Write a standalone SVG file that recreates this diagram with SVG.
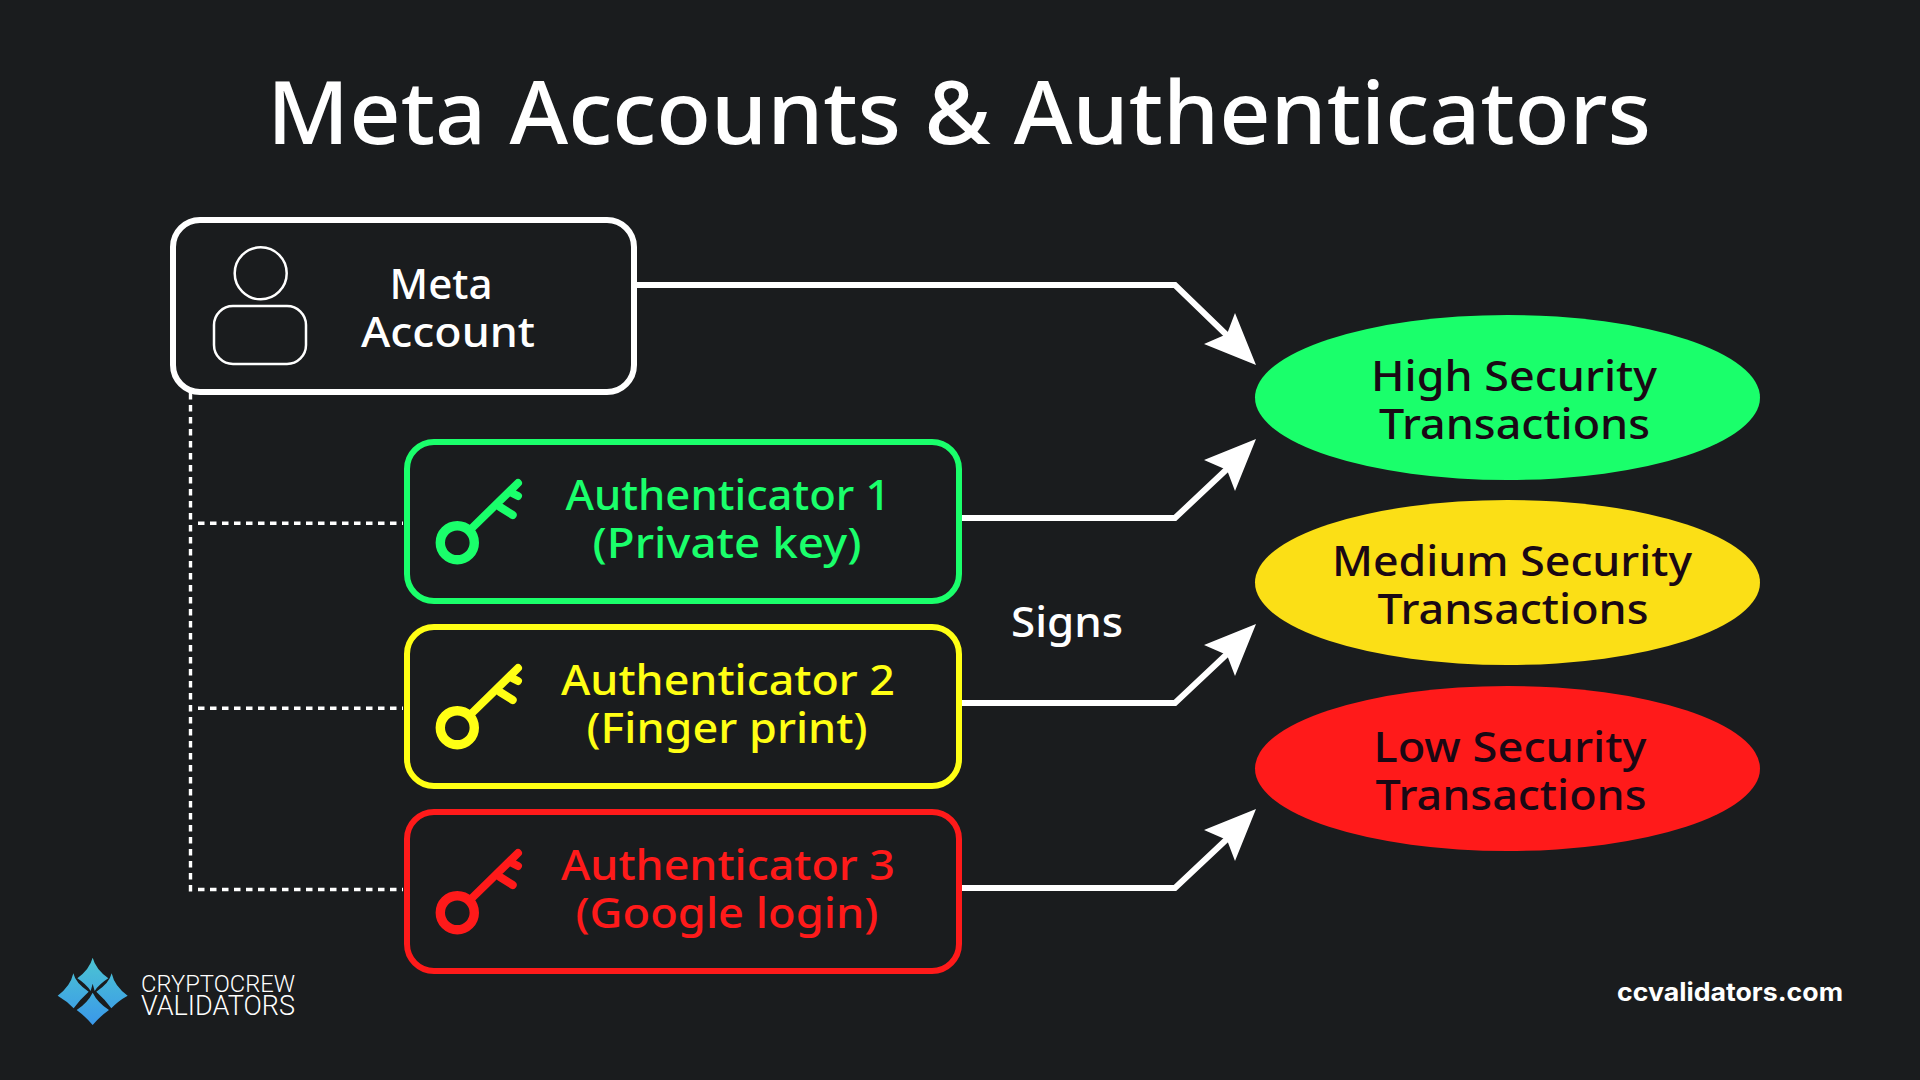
<svg xmlns="http://www.w3.org/2000/svg" width="1920" height="1080" viewBox="0 0 1920 1080">
<defs>
<style>
text{font-family:"Noto Sans","Open Sans","Liberation Sans",sans-serif;text-anchor:middle}
.lbl{font-size:42px;font-weight:500;fill:#fff}
.dark{font-size:42px;font-weight:500;fill:#1a0814}
.box{fill:none;stroke-width:6}
.green{stroke:#1aff6b}.yellow{stroke:#ffff14}.red{stroke:#ff1a1a}
.flow{fill:none;stroke:#fff;stroke-width:6}
.dash{fill:none;stroke:#fff;stroke-width:3.4;stroke-dasharray:6.5 5.5}
.keyring{fill:none;stroke-width:9.4}
.keyline{fill:none;stroke-width:8;stroke-linecap:round}
.petal{fill:url(#lg)}
</style>
<linearGradient id="lg" gradientUnits="userSpaceOnUse" x1="113" y1="8" x2="113" y2="210"><stop offset="0" stop-color="#4cc4d2"/><stop offset="1" stop-color="#3a98ea"/></linearGradient>
<polygon id="head" points="0,0 -52,-21 -29,-31 -21,-52" fill="#fff"/>
<g id="key"><circle class="keyring" cx="457.3" cy="542.7" r="17"/><path class="keyline" d="M471 529L518 483M500 507L512.7 515M510 492L518 496"/></g>
</defs>
<rect width="1920" height="1080" fill="#1a1c1e"/>
<text x="959" y="144" font-size="87" font-weight="500" fill="#fff" textLength="1384" lengthAdjust="spacingAndGlyphs">Meta Accounts &amp; Authenticators</text>
<g id="connectors">
<path class="flow" d="M637 285H1175L1236 344"/>
<path class="flow" d="M962 518H1175L1227 469"/>
<path class="flow" d="M962 703H1175L1227 654"/>
<path class="flow" d="M962 888H1175L1227 839"/>
<use href="#head" x="1256" y="365"/>
<use href="#head" transform="translate(1256 439) scale(1 -1)"/>
<use href="#head" transform="translate(1256 624) scale(1 -1)"/>
<use href="#head" transform="translate(1256 809) scale(1 -1)"/>
<path class="dash" d="M190.500 393V892M198 523.300H403M198 708.300H403M198 889.500H403"/>
<text class="lbl" x="1067" y="637" textLength="112" lengthAdjust="spacingAndGlyphs">Signs</text>
</g>
<g id="meta-account">
<rect class="box" x="173" y="220" width="461" height="172" rx="27" stroke="#fff"/>
<circle cx="260.7" cy="273.3" r="26" fill="none" stroke="#fff" stroke-width="2.5"/>
<rect x="214" y="306" width="92" height="58" rx="19" fill="none" stroke="#fff" stroke-width="2.5"/>
<text class="lbl" x="441" y="299" textLength="103" lengthAdjust="spacingAndGlyphs">Meta</text>
<text class="lbl" x="448" y="347" textLength="174" lengthAdjust="spacingAndGlyphs">Account</text>
</g>
<g id="authenticator-1">
<rect class="box green" x="407" y="442" width="552" height="159" rx="27"/>
<use href="#key" class="green"/>
<text class="lbl" style="fill:#1aff6b" x="728" y="510" textLength="325" lengthAdjust="spacingAndGlyphs">Authenticator 1</text>
<text class="lbl" style="fill:#1aff6b" x="727" y="558" textLength="269" lengthAdjust="spacingAndGlyphs">(Private key)</text>
</g>
<g id="authenticator-2">
<rect class="box yellow" x="407" y="627" width="552" height="159" rx="27"/>
<use href="#key" y="185" class="yellow"/>
<text class="lbl" style="fill:#ffff14" x="728" y="695" textLength="334" lengthAdjust="spacingAndGlyphs">Authenticator 2</text>
<text class="lbl" style="fill:#ffff14" x="727" y="743" textLength="281" lengthAdjust="spacingAndGlyphs">(Finger print)</text>
</g>
<g id="authenticator-3">
<rect class="box red" x="407" y="812" width="552" height="159" rx="27"/>
<use href="#key" y="370" class="red"/>
<text class="lbl" style="fill:#ff1a1a" x="728" y="880" textLength="334" lengthAdjust="spacingAndGlyphs">Authenticator 3</text>
<text class="lbl" style="fill:#ff1a1a" x="727" y="928" textLength="303" lengthAdjust="spacingAndGlyphs">(Google login)</text>
</g>
<g id="high-security">
<ellipse cx="1507.5" cy="397.5" rx="252.5" ry="82.5" fill="#1aff6b"/>
<text class="dark" x="1514" y="391" textLength="286" lengthAdjust="spacingAndGlyphs">High Security</text>
<text class="dark" x="1514.5" y="439" textLength="271" lengthAdjust="spacingAndGlyphs">Transactions</text>
</g>
<g id="medium-security">
<ellipse cx="1507.5" cy="582.5" rx="252.5" ry="82.5" fill="#fbdf16"/>
<text class="dark" x="1512" y="576" textLength="360" lengthAdjust="spacingAndGlyphs">Medium Security</text>
<text class="dark" x="1513" y="624" textLength="271" lengthAdjust="spacingAndGlyphs">Transactions</text>
</g>
<g id="low-security">
<ellipse cx="1507.5" cy="768.5" rx="252.5" ry="82.5" fill="#ff1a1a"/>
<text class="dark" x="1510" y="762" textLength="273" lengthAdjust="spacingAndGlyphs">Low Security</text>
<text class="dark" x="1511" y="810" textLength="271" lengthAdjust="spacingAndGlyphs">Transactions</text>
</g>
<g id="logo">
<g transform="translate(55 955) scale(.3333)">
<path class="petal" d="M113 8Q122 42 160 70Q132 88 119 108L113 86L107 108Q94 88 67 70Q104 42 113 8Z"/>
<path class="petal" d="M55 55Q62 85 101 110Q76 132 56 160Q36 138 8 122Q46 95 55 55Z"/>
<path class="petal" d="M170 55Q163 85 124 110Q149 132 169 160Q189 138 218 122Q179 95 170 55Z"/>
<path class="petal" d="M113 113Q128 143 162 165Q134 185 113 210Q92 185 65 165Q98 143 113 113Z"/>
</g>
<text x="218" y="992" font-size="24" font-weight="300" fill="#fff" style="font-family:Roboto,sans-serif" textLength="154" lengthAdjust="spacingAndGlyphs">CRYPTOCREW</text>
<text x="218" y="1015" font-size="27" font-weight="300" fill="#fff" style="font-family:Roboto,sans-serif" textLength="154" lengthAdjust="spacingAndGlyphs">VALIDATORS</text>
</g>
<text id="site" x="1730" y="1001" font-size="25" font-weight="700" fill="#fff" style="font-family:Inter,sans-serif" textLength="226" lengthAdjust="spacingAndGlyphs">ccvalidators.com</text>
</svg>
